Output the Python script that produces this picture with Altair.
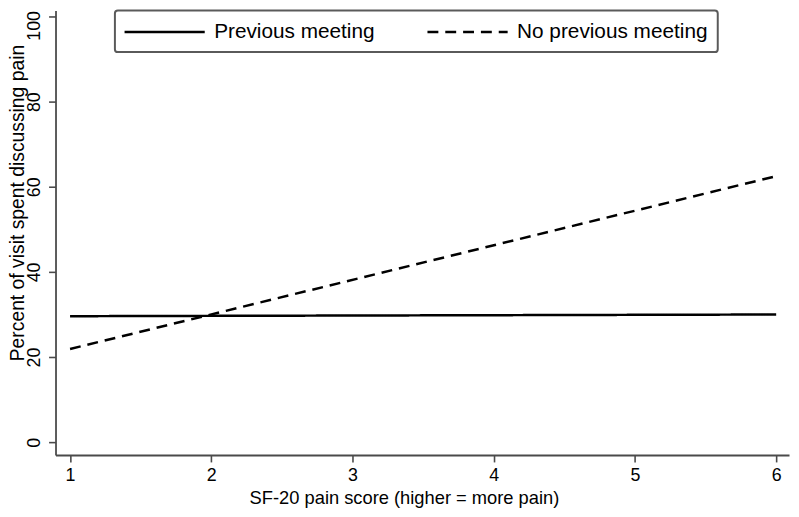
import altair as alt
import pandas as pd

# ---- data ----
series_names = ["Previous meeting", "No previous meeting"]
pain_score = [1, 6]
previous_meeting = [29.6, 30.0]
no_previous_meeting = [21.9, 62.5]
x_ticks = [1, 2, 3, 4, 5, 6]
y_ticks = [0, 20, 40, 60, 80, 100]

rows = []
for name, vals in zip(series_names, [previous_meeting, no_previous_meeting]):
    for x, y in zip(pain_score, vals):
        rows.append({"score": x, "pct": y, "group": name})
df = pd.DataFrame(rows)

FONT = "Liberation Sans"
AXIS_COLOR = "#4a4a4a"

chart = (
    alt.Chart(df)
    .mark_line(color="black", strokeWidth=2.5)
    .encode(
        x=alt.X(
            "score:Q",
            scale=alt.Scale(domain=[0.897, 6.091], nice=False, zero=False),
            axis=alt.Axis(
                values=x_ticks,
                title="SF-20 pain score (higher = more pain)",
                format="d",
                labelFontSize=18,
                labelPadding=5,
                titleFontSize=18.5,
                titleX=352,
                titleY=49,
                titleAlign="center",
                titleBaseline="alphabetic",
            ),
        ),
        y=alt.Y(
            "pct:Q",
            scale=alt.Scale(domain=[-3.0, 101.4], nice=False, zero=False),
            axis=alt.Axis(
                values=y_ticks,
                title="Percent of visit spent discussing pain",
                labelAngle=270,
                labelAlign="center",
                labelBaseline="bottom",
                labelFontSize=18,
                labelPadding=5,
                labelOffset={"condition": {"test": "datum.value === 100", "value": 9}, "value": 0},
                titleFontSize=19.5,
                titleAngle=270,
                titleBaseline="top",
                titleAlign="center",
                titleX=-47,
                titleY=194,
            ),
        ),
        strokeDash=alt.StrokeDash(
            "group:N",
            scale=alt.Scale(domain=series_names, range=[[1, 0], [11, 7]]),
            legend=alt.Legend(
                title=None,
                orient="none",
                legendX=60,
                legendY=0,
                direction="horizontal",
                columns=2,
                symbolType="M-4,0H4",
                symbolSize=410,
                symbolOffset=28.75,
                symbolStrokeWidth=2.5,
                symbolStrokeColor="black",
                labelFont=FONT,
                labelFontSize=21,
                labelColor="black",
                labelOffset=38.5,
                labelLimit=400,
                columnPadding=47,
                strokeColor="#5a5a5a",
                padding=10,
                cornerRadius=3,
            ),
        ),
    )
    .properties(
        width=741,
        height=449,
        autosize=alt.AutoSizeParams(type="none"),
        padding={"left": 48, "top": 0, "right": 2, "bottom": 52},
        background="white",
    )
    .configure_view(stroke=None)
    .configure_axis(
        grid=False,
        domainColor=AXIS_COLOR,
        domainWidth=1.8,
        tickColor=AXIS_COLOR,
        tickWidth=1.6,
        tickSize=7,
        labelFont=FONT,
        labelColor="black",
        titleFont=FONT,
        titleColor="black",
        titleFontWeight="normal",
    )
    .configure_legend(strokeWidth=2)
)

chart.save("out.html", embed_options={"renderer": "svg", "actions": False})
